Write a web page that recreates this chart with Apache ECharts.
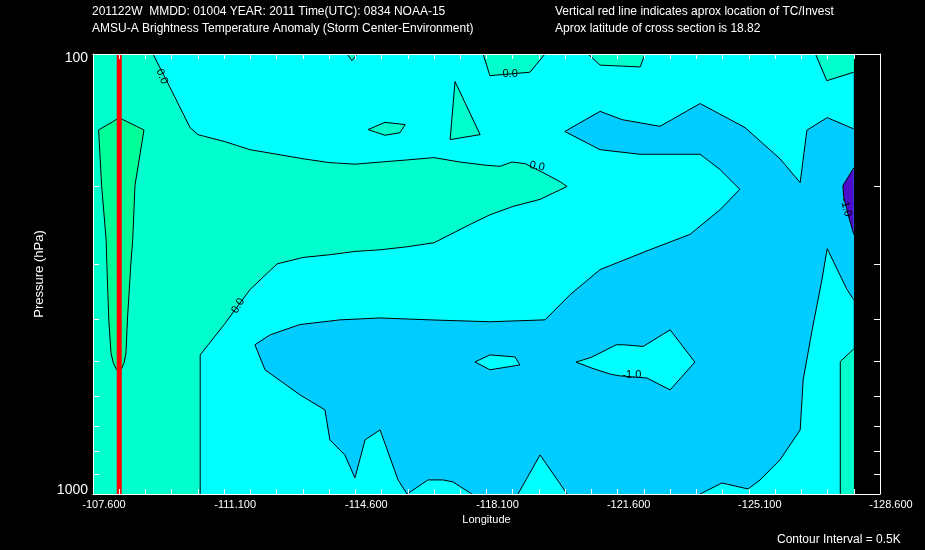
<!DOCTYPE html>
<html><head><meta charset="utf-8">
<script src="https://cdn.jsdelivr.net/npm/echarts@6/dist/echarts.min.js"></script>
<style>html,body{margin:0;padding:0;background:#000;}#c{width:925px;height:550px;}</style>
</head><body><div id="c"></div>
<script>
// ---------- axis values ----------
const LON_LEFT = -107.6, LON_RIGHT = -128.6, LON_DATA_END = -127.9;
const LON_STEP = 3.5;
const P_TOP = 100, P_BOTTOM = 1000;
const pressureTicks = [200, 300, 400, 500, 600, 700, 800, 900];
const pressureLabels = [100, 1000];
const tcLon = -108.3;

// ---------- contour bands: vertices [longitude, pressure hPa] ----------
const fieldBase = [[-107.6,100],[-127.9,100],[-127.9,1000],[-107.6,1000]];           // -1..0
const bandMainPos = [[-107.6,100],[-109.2,100],[-109.71,121.7],[-110.19,147],[-110.40,152.5],[-111.10,158],[-111.79,165],[-112.51,169],[-113.20,173],[-113.90,176.5],[-114.59,178],[-115.29,176],[-116.01,174],[-116.70,172],[-117.39,176],[-118.09,179],[-118.46,180],[-118.78,176],[-119.13,177.5],[-119.66,187],[-120.06,195],[-120.25,200],[-119.53,214],[-118.81,222],[-118.19,232],[-117.66,244],[-116.70,268.5],[-116.01,274],[-115.29,278.5],[-114.59,281],[-113.90,286],[-113.20,290],[-112.51,300],[-111.79,343],[-111.10,412],[-110.46,483],[-110.46,1000],[-107.6,1000]];
const bandWedgeHigh = [[-107.75,148.8],[-108.30,139.7],[-108.96,148.8],[-108.72,199],[-108.66,264],[-108.61,300],[-108.52,400],[-108.48,478],[-108.43,503],[-108.35,522],[-108.23,522],[-108.14,503],[-108.08,478],[-108.02,400],[-107.97,300],[-107.95,264],[-107.83,199]];
const bandNeg = [[-111.92,458],[-112.32,435],[-113.12,412],[-114.19,402],[-115.26,398],[-116.59,402],[-118.19,406],[-119.66,402],[-120.33,352.5],[-121.13,309],[-122.46,278.5],[-123.53,257],[-124.33,226],[-124.86,203],[-124.33,183],[-123.80,169],[-122.20,169],[-121.13,165],[-120.19,150],[-121.13,135],[-121.72,141],[-122.73,146],[-123.80,129.6],[-125.00,147],[-125.93,173],[-126.47,196],[-126.65,149],[-127.19,139.5],[-127.9,148],[-127.9,362],[-127.72,343],[-127.19,277],[-127.05,326],[-126.79,423.5],[-126.55,550],[-126.47,715],[-125.93,836.5],[-125.40,929],[-125.08,974],[-124.38,944],[-123.80,1000],[-120.25,1000],[-119.53,815],[-118.94,1000],[-117.71,1000],[-117.21,939],[-116.94,929],[-116.54,929],[-115.98,1000],[-115.74,929],[-115.26,715],[-114.86,753],[-114.59,919],[-114.32,815],[-113.92,753],[-113.79,644],[-113.12,595],[-112.19,522]];
const islandA = [[-120.49,501.5],[-120.91,488.6],[-121.56,458],[-121.75,458],[-122.28,462],[-123.00,423.5],[-123.66,501.5],[-123.00,580],[-122.38,545],[-121.66,539],[-121.40,534],[-120.91,517.5]];
const islandB = [[-117.79,501],[-118.19,483],[-118.86,488],[-118.99,509],[-118.19,522]];
const bandNegLow = [[-127.9,181.5],[-127.61,199],[-127.63,211],[-127.75,232],[-127.9,257]];
const bandTopMid = [[-118.01,100],[-118.19,112],[-119.26,110],[-119.66,100]];
const bandTopB = [[-120.81,100],[-121.13,106],[-122.20,107],[-122.33,100]];
const bandTopRight = [[-126.88,100],[-127.18,115],[-127.9,110],[-127.9,100]];
const bandTopTiny = [[-114.38,100],[-114.51,103.5],[-114.65,100]];
const bandIsle = [[-114.94,148.5],[-115.39,143],[-115.93,144.7],[-115.79,151],[-115.39,153]];
const bandSpike = [[-117.26,115.5],[-117.93,152.5],[-117.13,156.5]];
const bandRightStrip = [[-127.54,1000],[-127.54,500],[-127.9,468],[-127.9,1000]];

// band of each region (anomaly class)
const regionList = [
  {pts: fieldBase, band: 'm1to0', lines: false},
  {pts: bandMainPos, band: '0to1'},
  {pts: bandWedgeHigh, band: 'gt1'},
  {pts: bandNeg, band: 'm2tom1'},
  {pts: islandA, band: 'm1to0'},
  {pts: islandB, band: 'm1to0'},
  {pts: bandNegLow, band: 'ltm2'},
  {pts: bandTopMid, band: '0to1'},
  {pts: bandTopB, band: '0to1'},
  {pts: bandTopRight, band: '0to1'},
  {pts: bandTopTiny, band: '0to1'},
  {pts: bandIsle, band: '0to1'},
  {pts: bandSpike, band: '0to1'},
  {pts: bandRightStrip, band: '0to1'}
];

// contour labels [text, lon, pressure, angle]
const contourLabels = [
  ['0.0', -109.44, 112.5, -68],
  ['0.0', -118.73, 111, 0],
  ['0.0', -119.45, 180, -12],
  ['0.0', -111.47, 373.5, 59],
  ['-1.0', -121.98, 536, 0],
  ['-1.0', -127.69, 223, -75]
];

// ---------- styles ----------
const bandColor = {ltm2: '#4b0ccc', m2tom1: '#00ccff', m1to0: '#00ffff', '0to1': '#00ffcc', gt1: '#00ff99'};
const FONT = '"Liberation Sans", Arial, sans-serif';

const off = lon => LON_LEFT - lon;
function onEdge(a, b) {
  if (a[0] === b[0] && (a[0] === LON_LEFT || a[0] === LON_DATA_END)) return true;
  if (a[1] === b[1] && (a[1] === P_TOP || a[1] === P_BOTTOM)) return true;
  return false;
}
function contourRuns(pts) {
  const runs = []; let cur = [];
  const n = pts.length;
  let start = 0;
  for (let i = 0; i < n; i++) if (onEdge(pts[i], pts[(i + 1) % n])) { start = (i + 1) % n; break; }
  for (let k = 0; k < n; k++) {
    const a = pts[(start + k) % n], b = pts[(start + k + 1) % n];
    if (onEdge(a, b)) { if (cur.length > 1) runs.push(cur); cur = []; continue; }
    if (!cur.length) cur.push(a);
    cur.push(b);
  }
  if (cur.length > 1) runs.push(cur);
  return runs;
}

const chart = echarts.init(document.getElementById('c'), null, {renderer: 'canvas'});
const tickStyle = {color: '#fff', width: 1};
const xCommon = {
  type: 'value', min: 0, max: LON_LEFT - LON_RIGHT, interval: LON_STEP, z: 10,
  axisLine: {show: true, onZero: false, lineStyle: tickStyle},
  axisTick: {show: true, inside: true, length: 5, lineStyle: tickStyle},
  minorTick: {show: true, splitNumber: 5, length: 5, lineStyle: tickStyle},
  splitLine: {show: false}, minorSplitLine: {show: false}
};
const yCommon = {
  type: 'log', logBase: 10, min: P_TOP, max: P_BOTTOM, inverse: true, z: 10,
  axisLine: {show: true, onZero: false, lineStyle: tickStyle},
  axisTick: {show: true, inside: true, length: 6, customValues: pressureTicks, lineStyle: tickStyle},
  splitLine: {show: false}, minorTick: {show: false}
};

chart.setOption({
  backgroundColor: '#000',
  animation: false,
  grid: {left: 93, top: 54, width: 787, height: 440, containLabel: false},
  xAxis: [
    Object.assign({}, xCommon, {
      position: 'bottom',
      axisLabel: {color: '#fff', fontFamily: FONT, fontSize: 11, margin: 5, padding: [0, 0, 0, 22],
        formatter: v => (LON_LEFT - v).toFixed(3)},
      name: 'Longitude', nameLocation: 'middle', nameGap: 11,
      nameTextStyle: {color: '#fff', fontFamily: FONT, fontSize: 11}
    }),
    Object.assign({}, xCommon, {position: 'top', axisLabel: {show: false}})
  ],
  yAxis: [
    Object.assign({}, yCommon, {
      position: 'left',
      axisLabel: {color: '#fff', fontFamily: FONT, fontSize: 14, margin: 5, customValues: pressureLabels,
        formatter: v => (Math.round(v) === P_TOP ? '{t|' : '{b|') + Math.round(v) + '}',
        rich: {t: {color: '#fff', fontFamily: FONT, fontSize: 14, padding: [8, 0, 0, 0]},
               b: {color: '#fff', fontFamily: FONT, fontSize: 14, padding: [0, 0, 8, 0]}}},
      name: 'Pressure (hPa)', nameLocation: 'middle', nameGap: 42, nameRotate: 90,
      nameTextStyle: {color: '#fff', fontFamily: FONT, fontSize: 13}
    }),
    Object.assign({}, yCommon, {position: 'right', axisLabel: {show: false}})
  ],
  graphic: [
    {type: 'text', x: 92, y: 12, style: {text: '201122W  MMDD: 01004 YEAR: 2011 Time(UTC): 0834 NOAA-15', fill: '#fff', font: '12px ' + FONT, verticalAlign: 'middle'}},
    {type: 'text', x: 92, y: 29, style: {text: 'AMSU-A Brightness Temperature Anomaly (Storm Center-Environment)', fill: '#fff', font: '12px ' + FONT, verticalAlign: 'middle'}},
    {type: 'text', x: 555, y: 12, style: {text: 'Vertical red line indicates aprox location of TC/Invest', fill: '#fff', font: '12px ' + FONT, verticalAlign: 'middle'}},
    {type: 'text', x: 555, y: 29, style: {text: 'Aprox latitude of cross section is 18.82', fill: '#fff', font: '12px ' + FONT, verticalAlign: 'middle'}},
    {type: 'text', x: 777, y: 540, style: {text: 'Contour Interval = 0.5K', fill: '#fff', font: '12px ' + FONT, verticalAlign: 'middle'}}
  ],
  series: [
    {
      type: 'custom', name: 'bands', coordinateSystem: 'cartesian2d', xAxisIndex: 0, yAxisIndex: 0,
      data: regionList.map(r => [off(r.pts[0][0]), r.pts[0][1]]), clip: true, silent: true, z: 1,
      renderItem: (params, api) => {
        const r = regionList[params.dataIndex];
        return {type: 'polygon', z2: params.dataIndex,
          shape: {points: r.pts.map(v => api.coord([off(v[0]), v[1]]))},
          style: {fill: bandColor[r.band]}};
      }
    },
    {
      type: 'custom', name: 'contours', coordinateSystem: 'cartesian2d', xAxisIndex: 0, yAxisIndex: 0,
      data: regionList.map(r => [off(r.pts[0][0]), r.pts[0][1]]), clip: true, silent: true, z: 2,
      renderItem: (params, api) => {
        const r = regionList[params.dataIndex];
        if (r.lines === false) return {type: 'group', children: []};
        return {type: 'group', children: contourRuns(r.pts).map(run => ({
          type: 'polyline', shape: {points: run.map(v => api.coord([off(v[0]), v[1]]))},
          style: {stroke: '#000', lineWidth: 1, fill: null}}))};
      }
    },
    {
      type: 'line', name: 'TC', xAxisIndex: 0, yAxisIndex: 0, z: 3, symbol: 'none', silent: true,
      data: [[off(tcLon), P_TOP], [off(tcLon), P_BOTTOM]],
      lineStyle: {color: '#ff0000', width: 5}
    },
    {
      type: 'custom', name: 'labels', coordinateSystem: 'cartesian2d', xAxisIndex: 0, yAxisIndex: 0,
      data: contourLabels.map(l => [off(l[1]), l[2]]), silent: true, z: 4,
      renderItem: (params, api) => {
        const l = contourLabels[params.dataIndex];
        const pt = api.coord([off(l[1]), l[2]]);
        return {type: 'text', x: pt[0], y: pt[1], rotation: l[3] * Math.PI / 180,
          style: {text: l[0], fill: '#000', font: '11px ' + FONT, align: 'center', verticalAlign: 'middle'}};
      }
    }
  ]
});
</script></body></html>
